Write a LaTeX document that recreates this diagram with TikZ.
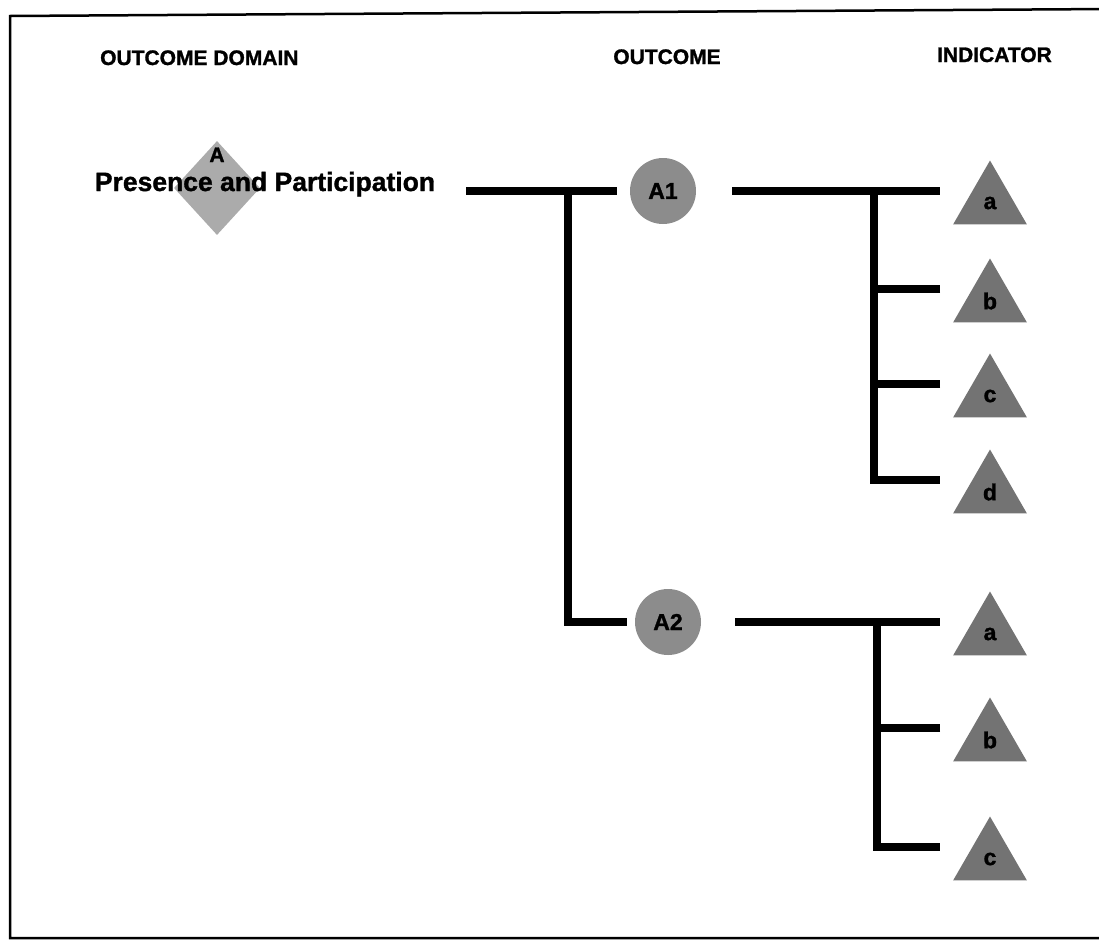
\documentclass[tikz,border=0pt]{standalone}
\usepackage{fontspec}
\setmainfont{Liberation Sans}[BoldFeatures={FakeBold=1.3}]
\usetikzlibrary{shapes.geometric}
\begin{document}
\begin{tikzpicture}[x=1pt,y=-1pt,
  conn/.style={line width=8pt,line cap=butt,line join=miter},
  hdr/.style={font=\bfseries\fontsize{21}{25}\selectfont,inner sep=0},
  dom/.style={font=\bfseries\fontsize{26.5}{30}\selectfont,inner sep=0},
  outc/.style={circle,fill=black!45,minimum size=66pt,inner sep=0,font=\bfseries\fontsize{23}{27}\selectfont},
  tri/.style={regular polygon,regular polygon sides=3,fill=black!55,minimum size=85pt,inner sep=0,font=\bfseries\fontsize{23}{27}\selectfont},
  dia/.style={diamond,fill=black!33,minimum width=86pt,minimum height=94pt,inner sep=0}]
\useasboundingbox (0,0) rectangle (1099,940);
\begin{scope}
\clip (0,0) rectangle (1099,940);
\draw[line width=2.5pt] (1110,9) -- (10,16) -- (10,938) -- (1110,938);
\end{scope}
% headers
\node[hdr,anchor=base west] (h1) at (100,65) {OUTCOME DOMAIN};
\node[hdr,anchor=base] (h2) at (667,64) {OUTCOME};
\node[hdr,anchor=base east] (h3) at (1052,62) {INDICATOR};
% domain
\node[dia] (D) at (217,188) {};
\node[hdr,anchor=base] (DA) at (217,162) {A};
\node[dom,anchor=base] (P) at (265,191) {Presence and Participation};
% outcomes
\node[outc] (A1) at (663,191) {A1};
\node[outc] (A2) at (668,622) {A2};
% indicators
\node[tri] (Ia) at (990,203) {a};
\node[tri] (Ib) at (990,301) {b};
\node[tri] (Ic) at (990,396) {c};
\node[tri] (Id) at (990,492) {d};
\node[tri] (Ja) at (990,634) {a};
\node[tri] (Jb) at (990,740) {b};
\node[tri] (Jc) at (990,859) {c};
% junctions
\coordinate (j0) at (568,191);
\coordinate (tU) at (874,191);
\coordinate (tL) at (877,622);
% connectors
\draw[conn] ([xshift=31pt]P.base east) -- ([xshift=-13pt]A1.west);
\draw[conn] (j0) |- ([xshift=-8pt]A2.west);
\draw[conn] ([xshift=36pt]A1.east) -- ([shift={(-50,-12)}]Ia.center);
\draw[conn] (tU) |- ([shift={(-50,-12)}]Id.center);
\draw[conn] ([shift={(-50,-12)}]Ib.center) -- ++(-66,0);
\draw[conn] ([shift={(-50,-12)}]Ic.center) -- ++(-66,0);
\draw[conn] ([xshift=34pt]A2.east) -- ([shift={(-50,-12)}]Ja.center);
\draw[conn] (tL) |- ([shift={(-50,-12)}]Jc.center);
\draw[conn] ([shift={(-50,-12)}]Jb.center) -- ++(-63,0);
\end{tikzpicture}
\end{document}
